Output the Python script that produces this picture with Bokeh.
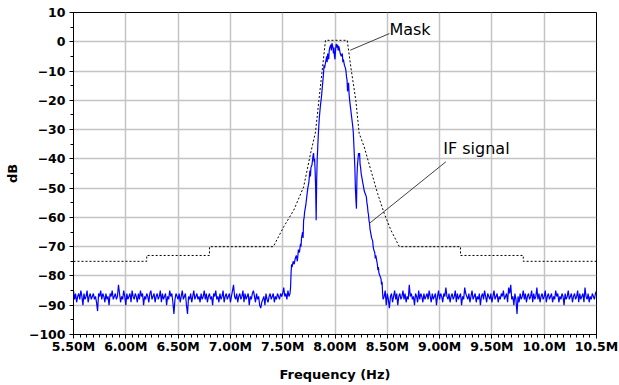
import numpy as np
from bokeh.plotting import figure
from bokeh.models import SingleIntervalTicker, Range1d
from bokeh.core.properties import value
from bokeh.embed import file_html
from bokeh.resources import INLINE

# ---------------- data ----------------
# noise floor left of the band, 5.50M .. 7.57M, 0.01M steps
noise_left = [
    -85, -88, -86, -89, -87, -86, -88, -85, -87, -90, -86, -88, -87, -85, -89, -87, -86, -88, -87, -86,
    -88, -87, -89, -92, -86, -87, -85, -88, -86, -87, -89, -86, -88, -87, -90, -86, -87, -85, -88, -87,
    -86, -88, -87, -83, -86, -89, -87, -88, -85, -87, -90, -86, -88, -87, -86, -89, -85, -87, -88, -86,
    -87, -89, -86, -88, -85, -87, -86, -90, -87, -88, -86, -87, -89, -86, -85, -88, -87, -86, -89, -87,
    -86, -88, -87, -85, -89, -86, -88, -87, -86, -90, -87, -88, -85, -87, -86, -89, -93, -88, -86, -87,
    -88, -86, -89, -87, -85, -88, -87, -86, -90, -93, -87, -88, -86, -89, -87, -85, -88, -87, -86, -88,
    -87, -89, -86, -88, -87, -85, -88, -86, -89, -87, -86, -88, -87, -90, -86, -87, -85, -88, -87, -89,
    -86, -88, -87, -85, -89, -87, -86, -88, -87, -86, -89, -87, -85, -83, -87, -88, -86, -89, -87, -86,
    -88, -87, -85, -89, -86, -88, -87, -86, -90, -87, -88, -86, -85, -87, -89, -86, -88, -87, -90, -91,
    -89, -88, -87, -90, -86, -88, -89, -87, -86, -88, -87, -86, -89, -87, -88, -86, -87, -88, -86, -87,
    -86, -84, -87, -86, -88, -85, -87, -86,
]
noise_left_start = 5.50

# in-band IF signal (frequency in MHz, level in dB)
band_freq = [
    7.575, 7.58, 7.585, 7.59, 7.60, 7.61, 7.62, 7.63, 7.64, 7.65, 7.66, 7.67, 7.675, 7.68, 7.69, 7.695,
    7.70, 7.705, 7.71, 7.72, 7.73, 7.74, 7.75, 7.76, 7.765, 7.77, 7.78, 7.79, 7.795, 7.80, 7.805, 7.81,
    7.815, 7.82, 7.825, 7.83, 7.835, 7.84, 7.845, 7.85, 7.86, 7.87, 7.88, 7.885, 7.89, 7.895, 7.90, 7.91,
    7.915, 7.92, 7.925, 7.93, 7.94, 7.945, 7.95, 7.96, 7.965, 7.97, 7.975, 7.98, 7.985, 7.99, 7.995, 8.00,
    8.005, 8.01, 8.015, 8.02, 8.025, 8.03, 8.035, 8.04, 8.045, 8.05, 8.06, 8.07, 8.075, 8.08, 8.09, 8.10,
    8.105, 8.11, 8.115, 8.12, 8.125, 8.13, 8.135, 8.14, 8.15, 8.16, 8.17, 8.175, 8.18, 8.185, 8.19, 8.195,
    8.20, 8.205, 8.21, 8.215, 8.22, 8.225, 8.23, 8.235, 8.24, 8.245, 8.25, 8.26, 8.265, 8.27, 8.28, 8.29,
    8.30, 8.305, 8.31, 8.315, 8.32, 8.325, 8.33, 8.335, 8.34, 8.35, 8.36, 8.365, 8.37, 8.38, 8.385, 8.39,
    8.40, 8.405, 8.41, 8.415, 8.42, 8.43, 8.44, 8.445, 8.45, 8.455, 8.46,
]
band_db = [
    -84, -79, -76, -77, -75, -76, -74, -73, -75, -71, -72, -69, -70, -67, -65, -67,
    -61, -60, -58, -56, -53, -50, -48, -44, -46, -43, -42, -39, -38, -41, -40, -44,
    -50, -61, -47, -40, -36, -32, -29, -26, -22, -19, -15, -13, -11, -8, -9, -7,
    -6, -5, -7, -4, -6, -3, -2, -1, -3, -0.5, -1, -2, -4, -2, -5, -6,
    -3, -1, -0.8, -2, -1, -3, -1.5, -2, -3, -4, -5, -4, -7, -6, -8, -9,
    -10, -12, -13, -17, -15, -14, -18, -20, -23, -26, -29, -31, -35, -39, -43, -50,
    -54, -57, -46, -42, -40, -38, -39, -38, -42, -43, -45, -47, -48, -49, -51, -52,
    -53, -55, -56, -58, -59, -61, -62, -64, -65, -67, -68, -70, -71, -72, -74, -73,
    -75, -76, -78, -77, -79, -80, -81, -83, -82, -86, -88,
]

# noise floor right of the band, 8.47M .. 10.50M, 0.01M steps
noise_right = [
    -87, -85, -90, -86, -88, -91, -87, -86, -89, -87, -85, -88, -86, -90, -87, -86, -88, -87, -85, -88,
    -86, -89, -87, -88, -83, -87, -86, -88, -87, -90, -86, -87, -89, -85, -88, -86, -87, -89, -86, -88,
    -87, -86, -88, -85, -87, -89, -86, -88, -87, -86, -90, -87, -85, -88, -86, -87, -89, -86, -87, -84,
    -87, -88, -86, -89, -87, -86, -88, -87, -85, -89, -86, -88, -87, -86, -90, -87, -88, -84, -86, -87,
    -88, -86, -89, -87, -85, -88, -87, -86, -89, -87, -88, -86, -90, -87, -86, -88, -85, -87, -89, -86,
    -87, -88, -86, -89, -87, -85, -88, -87, -86, -89, -87, -88, -86, -87, -85, -88, -87, -86, -89, -84,
    -86, -83, -88, -87, -90, -86, -88, -93, -87, -89, -86, -88, -87, -85, -88, -86, -89, -87, -86, -88,
    -87, -85, -89, -86, -88, -87, -84, -88, -86, -89, -87, -86, -88, -87, -85, -89, -87, -86, -88, -87,
    -86, -89, -87, -88, -85, -87, -86, -89, -87, -88, -86, -87, -90, -86, -88, -87, -85, -88, -87, -86,
    -89, -87, -86, -88, -87, -85, -89, -86, -88, -87, -86, -89, -84, -87, -88, -86, -89, -87, -88, -86,
    -87, -88, -86, -85,
]
noise_right_start = 8.47
noise_step = 0.01

# spectral mask
mask_freq = [5.5, 6.2, 6.2, 6.8, 6.8, 7.41, 7.51, 7.606, 7.70, 7.766, 7.814, 7.846, 7.878, 7.909,
             8.117, 8.151, 8.199, 8.231, 8.279, 8.343, 8.407, 8.471, 8.535, 8.615, 9.2, 9.2, 9.8, 9.8, 10.5]
mask_db = [-75, -75, -73, -73, -70, -70, -63.2, -57.5, -49.6, -38.2, -30.8, -20, -9.7, 0.5,
           0.5, -8.6, -20, -31.3, -35.9, -43.9, -51.8, -58.7, -64.4, -70, -70, -73, -73, -75, -75]

x_ticks = [5.5, 6.0, 6.5, 7.0, 7.5, 8.0, 8.5, 9.0, 9.5, 10.0, 10.5]
x_tick_labels = ["5.50M", "6.00M", "6.50M", "7.00M", "7.50M", "8.00M",
                 "8.50M", "9.00M", "9.50M", "10.0M", "10.5M"]

annot_text = ["Mask", "IF signal"]
annot_x = [8.52, 9.035]
annot_y = [4.3, -36.5]
leader_x0 = [8.145, 8.33]
leader_y0 = [-2.9, -62.0]
leader_x1 = [8.52, 9.06]
leader_y1 = [2.8, -41.0]

# ---------------- build ----------------
f_left = np.round(noise_left_start + noise_step * np.arange(len(noise_left)), 3)
f_right = np.round(noise_right_start + noise_step * np.arange(len(noise_right)), 3)
sig_freq = list(f_left) + band_freq + list(f_right)
sig_db = noise_left + band_db + noise_right

FONT = "DejaVu Sans"

p = figure(frame_width=523, frame_height=322, output_backend="svg", toolbar_location=None,
           x_range=Range1d(5.5, 10.5), y_range=Range1d(-100, 10),
           min_border_left=73, min_border_right=23, min_border_top=12, min_border_bottom=48,
           background_fill_color="white", border_fill_color="white")
p.outline_line_color = "black"
p.outline_line_width = 1

p.xaxis.ticker = SingleIntervalTicker(interval=0.5, num_minor_ticks=8)
p.yaxis.ticker = SingleIntervalTicker(interval=10, num_minor_ticks=2)
p.xaxis.major_label_overrides = {t: lab for t, lab in zip(x_ticks, x_tick_labels)}

for ax in (p.xaxis[0], p.yaxis[0]):
    ax.axis_line_color = "black"
    ax.major_tick_line_color = "black"
    ax.minor_tick_line_color = "black"
    ax.major_tick_out = 4
    ax.major_tick_in = 0
    ax.minor_tick_out = 3
    ax.minor_tick_in = 0
    ax.major_label_text_font = FONT
    ax.major_label_text_font_style = "bold"
    ax.major_label_text_font_size = "12.5px"
    ax.major_label_text_color = "black"
    ax.axis_label_text_font = FONT
    ax.axis_label_text_font_style = "bold"
    ax.axis_label_text_font_size = "13px"
    ax.axis_label_text_color = "black"

p.xaxis.axis_label = "Frequency (Hz)"
p.yaxis.axis_label = "dB"
p.xaxis.major_label_standoff = 0
p.xaxis.axis_label_standoff = 10
p.yaxis.major_label_standoff = 4
p.yaxis.axis_label_standoff = 6

p.xgrid.grid_line_color = "#c4c4c4"
p.ygrid.grid_line_color = "#c4c4c4"
p.xgrid.grid_line_width = 1.5
p.ygrid.grid_line_width = 1.5

p.line(sig_freq, sig_db, line_color="#0000ff", line_width=1.2)
p.line(mask_freq, mask_db, line_color="black", line_width=1, line_dash="2 2")
p.segment(x0=leader_x0, y0=leader_y0, x1=leader_x1, y1=leader_y1, line_color="#404040", line_width=1)
p.text(x=annot_x, y=annot_y, text=annot_text, text_font=value(FONT), text_font_size="16px",
       text_baseline="middle", text_align="left", text_color="black")

open("out.html", "w").write(file_html(p, INLINE))
